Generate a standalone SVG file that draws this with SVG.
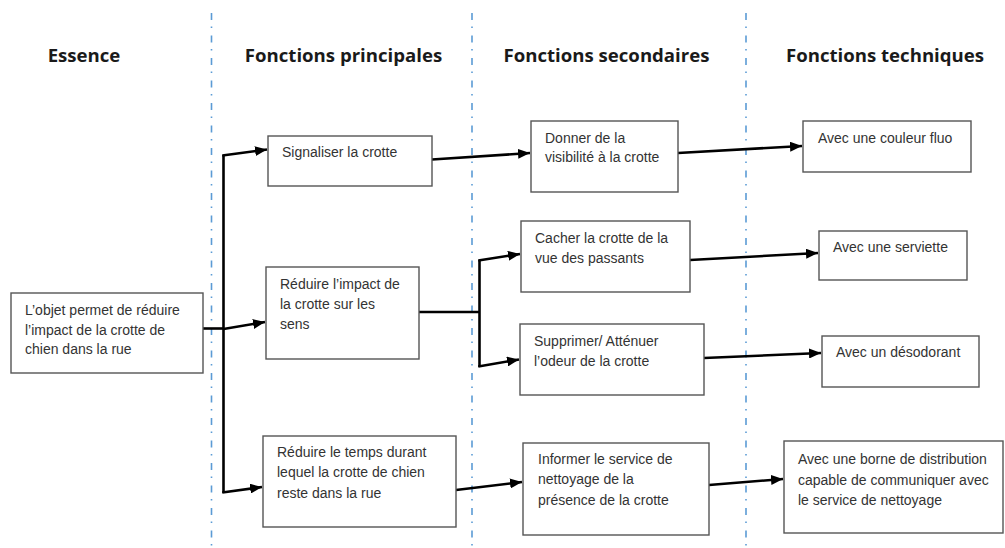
<svg xmlns="http://www.w3.org/2000/svg" width="1005" height="548" viewBox="0 0 1005 548">
<defs>
<style>
.sep{stroke:#5b9bd5;stroke-width:1.6;stroke-dasharray:7 6.5 1.5 7.5;fill:none}
.hdr{font-family:"Open Sans","Liberation Sans",sans-serif;font-weight:bold;font-size:18.6px;fill:#1a1a1a}
.box{fill:#fff;stroke:#555;stroke-width:1.4}
.t{font-family:"Liberation Sans",Arial,sans-serif;font-size:14px;fill:#333}
.c{fill:none;stroke:#000;stroke-width:2.6;stroke-linejoin:miter}
.a{fill:none;stroke:#000;stroke-width:2.6;marker-end:url(#ah)}
</style>
<marker id="ah" viewBox="0 0 12 10" refX="12" refY="5" markerWidth="12" markerHeight="10" markerUnits="userSpaceOnUse" orient="auto">
<path d="M0,0 L12,5 L0,10 Z" fill="#000"/>
</marker>
</defs>
<rect width="1005" height="548" fill="#fff"/>
<g id="separators">
<line class="sep" x1="211.5" y1="13" x2="211.5" y2="548"/>
<line class="sep" x1="472" y1="13" x2="472" y2="548"/>
<line class="sep" x1="746" y1="13" x2="746" y2="548"/>
</g>
<g id="headers">
<text class="hdr" x="84" y="62" text-anchor="middle">Essence</text>
<text class="hdr" x="343.5" y="62" text-anchor="middle">Fonctions principales</text>
<text class="hdr" x="606.5" y="62" text-anchor="middle">Fonctions secondaires</text>
<text class="hdr" x="885" y="62" text-anchor="middle">Fonctions techniques</text>
</g>
<g id="connectors">
<polyline class="c" points="203,328.5 223.5,328.5"/>
<polyline class="c" points="223.5,155 223.5,493"/>
<polyline class="a" points="222.3,155.5 267,149.5"/>
<polyline class="a" points="223.5,329 265,322"/>
<polyline class="a" points="222.3,492.5 262,487"/>
<polyline class="a" points="432,159.5 530,153"/>
<polyline class="c" points="419,312 479.5,312"/>
<polyline class="c" points="479.5,260 479.5,367"/>
<polyline class="a" points="478.3,260.5 520,254"/>
<polyline class="a" points="478.3,366.5 519,359.5"/>
<polyline class="a" points="678,153 802,146"/>
<polyline class="a" points="690,260 818,253"/>
<polyline class="a" points="704,358 821,353"/>
<polyline class="a" points="456,490 522,482"/>
<polyline class="a" points="709,485 783,479"/>
</g>
<g id="essence">
<rect class="box" x="11" y="293" width="192" height="80"/>
<text class="t" x="25" y="315">L’objet permet de réduire</text>
<text class="t" x="25" y="334.5">l’impact de la crotte de</text>
<text class="t" x="25" y="354">chien dans la rue</text>
</g>
<g id="fp1">
<rect class="box" x="268" y="136" width="164" height="50"/>
<text class="t" x="282" y="157">Signaliser la crotte</text>
</g>
<g id="fp2">
<rect class="box" x="266" y="267" width="153" height="92"/>
<text class="t" x="280" y="289">Réduire l’impact de</text>
<text class="t" x="280" y="309">la crotte sur les</text>
<text class="t" x="280" y="329">sens</text>
</g>
<g id="fp3">
<rect class="box" x="263" y="436" width="193" height="91"/>
<text class="t" x="277" y="457">Réduire le temps durant</text>
<text class="t" x="277" y="477">lequel la crotte de chien</text>
<text class="t" x="277" y="498">reste dans la rue</text>
</g>
<g id="fs1">
<rect class="box" x="531" y="121" width="147" height="71"/>
<text class="t" x="545" y="143">Donner de la</text>
<text class="t" x="545" y="162">visibilité à la crotte</text>
</g>
<g id="fs2">
<rect class="box" x="521" y="221" width="169" height="71"/>
<text class="t" x="535" y="243">Cacher la crotte de la</text>
<text class="t" x="535" y="263">vue des passants</text>
</g>
<g id="fs3">
<rect class="box" x="520" y="324" width="184" height="71"/>
<text class="t" x="534" y="346">Supprimer/ Atténuer</text>
<text class="t" x="534" y="366">l’odeur de la crotte</text>
</g>
<g id="fs4">
<rect class="box" x="523" y="443" width="186" height="92"/>
<text class="t" x="538" y="464">Informer le service de</text>
<text class="t" x="538" y="484">nettoyage de la</text>
<text class="t" x="538" y="505">présence de la crotte</text>
</g>
<g id="ft1">
<rect class="box" x="803" y="121" width="168" height="51"/>
<text class="t" x="818" y="143">Avec une couleur fluo</text>
</g>
<g id="ft2">
<rect class="box" x="819" y="231" width="148" height="49"/>
<text class="t" x="833" y="252">Avec une serviette</text>
</g>
<g id="ft3">
<rect class="box" x="822" y="336" width="157" height="51"/>
<text class="t" x="836" y="357">Avec un désodorant</text>
</g>
<g id="ft4">
<rect class="box" x="784" y="441" width="219" height="92"/>
<text class="t" x="798" y="464">Avec une borne de distribution</text>
<text class="t" x="798" y="485">capable de communiquer avec</text>
<text class="t" x="798" y="505">le service de nettoyage</text>
</g>
</svg>
